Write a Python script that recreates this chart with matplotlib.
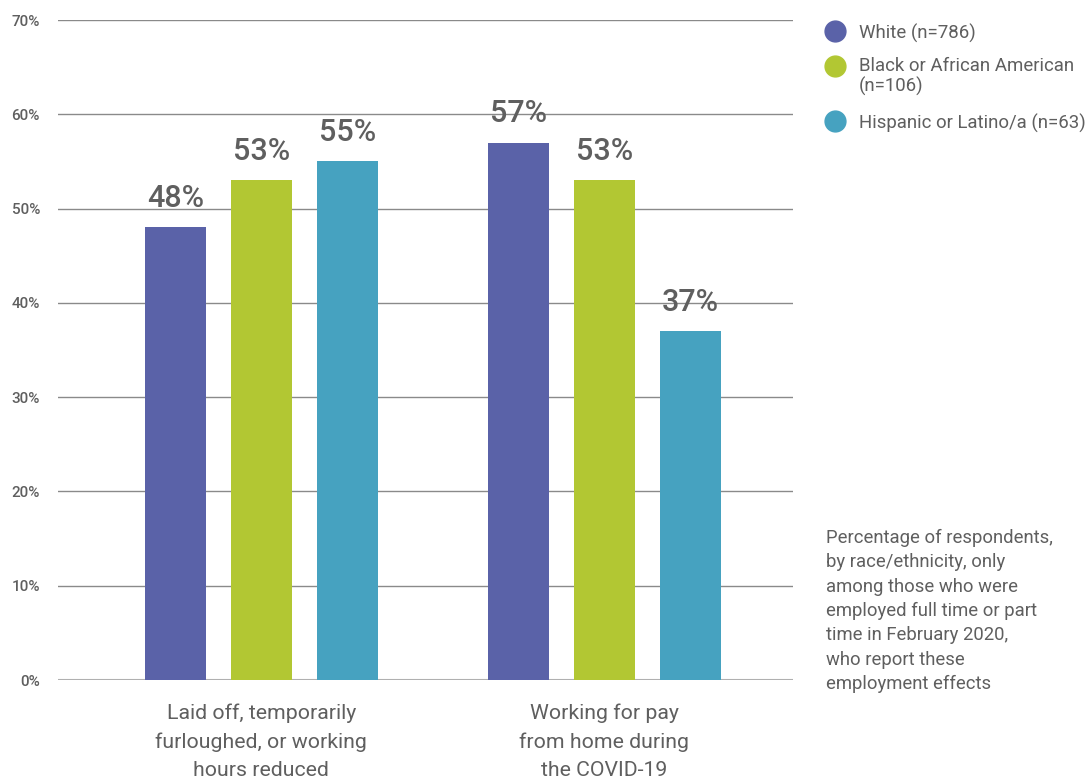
import matplotlib
matplotlib.use("Agg")
import matplotlib.pyplot as plt
import numpy as np
from matplotlib.lines import Line2D

plt.rcParams['font.family'] = ['Roboto', 'DejaVu Sans']

categories = ["Laid off, temporarily\nfurloughed, or working\nhours reduced",
              "Working for pay\nfrom home during\nthe COVID-19"]
series_names = ["White (n=786)", "Black or African American\n(n=106)", "Hispanic or Latino/a (n=63)"]
white = [48, 57]
black = [53, 53]
hispanic = [55, 37]
series = [white, black, hispanic]
colors = ["#5A62A8", "#B2C733", "#46A2C0"]
yticks = [0, 10, 20, 30, 40, 50, 60, 70]
note = ("Percentage of respondents,\nby race/ethnicity, only\namong those who were\n"
        "employed full time or part\ntime in February 2020,\nwho report these\nemployment effects")

text_color = "#5f5f5f"
fig = plt.figure(figsize=(10.87, 7.8), dpi=100)
ax = fig.add_axes([58/1087, 1-680/780, (793-58)/1087, (680-20)/780])

x = np.arange(len(categories))
offsets = [-0.25, 0, 0.25]
width = 0.178
for vals, off, c in zip(series, offsets, colors):
    bars = ax.bar(x + off, vals, width=width, color=c, zorder=3)
    for b, v in zip(bars, vals):
        ax.text(b.get_x() + b.get_width()/2, v + 1.5, f"{v}%", ha="center", va="bottom",
                fontsize=22, fontweight="medium", color=text_color, zorder=4)

ax.set_xlim(-0.593, 1.55)
ax.set_ylim(0, 70)
ax.set_yticks(yticks)
ax.set_yticklabels([f"{t}%" for t in yticks], fontsize=11, fontweight="medium", color=text_color)
ax.yaxis.grid(True, color="#8a8a8a", linewidth=1, zorder=0)
ax.tick_params(axis="y", length=0, pad=13)
ax.set_xticks([])
for s in ax.spines.values():
    s.set_visible(False)
ax.axhline(0, color="#b0b0b0", linewidth=1.5, zorder=2)

for xi, cat in zip(x, categories):
    ax.annotate(cat, xy=(xi, 0), xycoords="data", xytext=(0, -17), textcoords="offset points",
                ha="center", va="top", fontsize=15.3, color=text_color, linespacing=1.6,
                annotation_clip=False)

# Legend (drawn manually in figure coordinates)
legend_rows = [31, 66, 121]
for name, c, ys in zip(series_names, colors, legend_rows):
    fig.add_artist(Line2D([835/1087], [1-ys/780], marker="o", linestyle="", markersize=15,
                          markerfacecolor=c, markeredgecolor=c, transform=fig.transFigure))
    if "\n" in name:
        fig.text(859/1087, 1-(ys-9)/780, name, ha="left", va="top",
                 fontsize=13.4, color=text_color, linespacing=1.1)
    else:
        fig.text(859/1087, 1-ys/780, name, ha="left", va="center_baseline",
                 fontsize=13.4, color=text_color)

fig.text(826/1087, 1-529/780, note, ha="left", va="top", fontsize=13.3, color=text_color,
         linespacing=1.45)

fig.savefig("out.png", dpi=100)
